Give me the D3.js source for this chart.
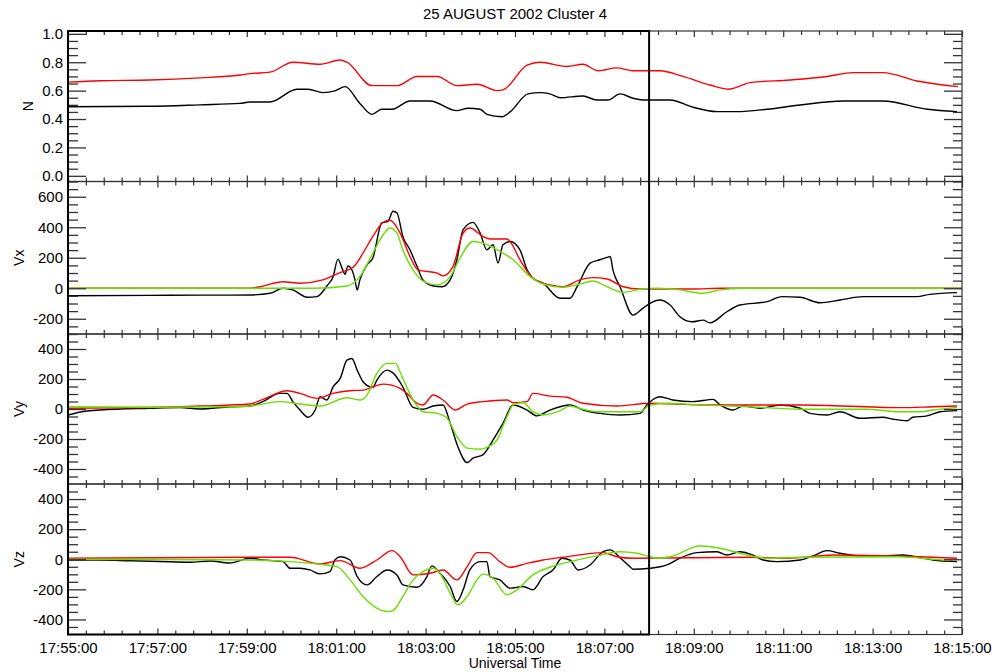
<!DOCTYPE html>
<html><head><meta charset="utf-8">
<script src="https://cdn.jsdelivr.net/npm/d3@7"></script>
<style>
body{margin:0;background:#fff}
svg{display:block}
text{font-family:"Liberation Sans",Arial,Helvetica,sans-serif;fill:#000}
</style>
</head><body><div id="chart"></div>
<script>
// ---------- DATA ----------
const chartTitle = "25 AUGUST 2002 Cluster 4";
const xTitle = "Universal Time";
const startTime = "2002-08-25T17:55:00Z";
const endTime = "2002-08-25T18:15:00Z";
const markerTime = "2002-08-25T18:08:00Z";
const xTickLabels = ["17:55:00","17:57:00","17:59:00","18:01:00","18:03:00","18:05:00","18:07:00","18:09:00","18:11:00","18:13:00","18:15:00"];
const panelNames = ["N","Vx","Vy","Vz"];
const nTickLabels = ["0.0","0.2","0.4","0.6","0.8","1.0"];
const vxTickLabels = ["-200","0","200","400","600"];
const vyTickLabels = ["-400","-200","0","200","400"];
const vzTickLabels = ["-400","-200","0","200","400"];

// series: [minutes after 17:55:00, value]
const nRed = [[0,0.66],[0.72,0.67],[1.83,0.675],[2.95,0.69],[3.85,0.71],[4.07,0.72],[4.52,0.73],[5.03,0.80],[5.64,0.786],[6.09,0.816],[6.24,0.80],[6.80,0.635],[7.36,0.635],[7.81,0.70],[8.26,0.70],[8.70,0.635],[9.15,0.645],[9.60,0.60],[9.73,0.605],[10.27,0.78],[10.56,0.80],[11.16,0.77],[11.52,0.786],[11.86,0.74],[12.28,0.76],[12.64,0.74],[13.24,0.74],[13.76,0.70],[14.36,0.64],[14.77,0.61],[15.26,0.656],[16.15,0.675],[16.98,0.70],[17.56,0.727],[18.23,0.727],[18.99,0.668],[19.91,0.628]];
const nBlack = [[0,0.487],[1.83,0.49],[2.95,0.50],[3.85,0.51],[4.07,0.52],[4.52,0.52],[5.12,0.61],[5.37,0.61],[5.70,0.586],[5.97,0.598],[6.20,0.628],[6.53,0.51],[6.80,0.433],[7.02,0.469],[7.25,0.469],[7.65,0.527],[8.10,0.527],[8.70,0.459],[8.95,0.476],[9.22,0.469],[9.37,0.433],[9.71,0.416],[9.89,0.45],[10.29,0.577],[10.56,0.586],[10.78,0.577],[11.01,0.55],[11.52,0.562],[11.83,0.534],[12.08,0.534],[12.35,0.577],[12.64,0.546],[12.86,0.534],[13.47,0.534],[13.98,0.483],[14.52,0.452],[14.97,0.452],[15.64,0.469],[16.38,0.499],[17.34,0.527],[18.23,0.527],[19.22,0.469],[19.89,0.452]];

const vxBlack = [[0,-49],[1.83,-47],[2.95,-45],[3.62,-45],[4.07,-44],[4.52,-33],[4.81,0],[5.03,-11],[5.35,-59],[5.57,-55],[5.79,15],[5.93,76],[6.04,191],[6.13,132],[6.20,92],[6.26,147],[6.35,121],[6.42,55],[6.47,-11],[6.53,55],[6.69,154],[6.82,198],[7.02,428],[7.16,439],[7.27,505],[7.36,494],[7.49,340],[7.65,252],[7.81,142],[7.94,55],[8.17,15],[8.37,10],[8.55,55],[8.70,187],[8.84,384],[9.06,432],[9.22,362],[9.37,252],[9.51,285],[9.62,165],[9.73,285],[9.89,307],[10.11,252],[10.27,121],[10.40,66],[10.63,33],[11.01,-66],[11.23,-66],[11.39,10],[11.68,165],[11.90,187],[12.08,204],[12.13,208],[12.19,121],[12.35,10],[12.64,-176],[12.86,-132],[13.02,-99],[13.24,-77],[13.47,-110],[13.69,-187],[13.96,-220],[14.21,-209],[14.36,-227],[14.74,-154],[15.03,-110],[15.64,-88],[15.97,-55],[16.38,-59],[16.82,-95],[17.27,-77],[17.79,-55],[18.99,-55],[19.28,-40],[19.89,-29]];
const vxRed = [[0,0],[4.07,0],[4.30,10],[4.81,43],[5.19,33],[5.70,55],[6.09,103],[6.38,138],[6.60,231],[6.82,340],[7.05,432],[7.20,446],[7.43,362],[7.65,208],[7.83,121],[8.26,99],[8.39,81],[8.61,142],[8.84,362],[8.99,395],[9.28,340],[9.44,323],[9.82,323],[9.89,307],[10.11,187],[10.40,66],[10.78,22],[11.07,10],[11.45,55],[11.74,70],[12.06,61],[12.42,10],[12.80,-5],[14.0,-5],[14.6,0],[20,0]];
const vxGreen = [[0,0],[5.5,0],[6.24,15],[6.53,76],[6.82,230],[7.05,351],[7.20,395],[7.36,362],[7.49,252],[7.72,121],[7.94,48],[8.26,22],[8.55,76],[8.77,198],[9.06,307],[9.28,296],[9.60,252],[9.96,187],[10.34,76],[10.63,28],[11.07,7],[11.52,33],[11.74,48],[12.06,10],[12.42,-26],[12.80,-7],[13.2,0],[13.69,-11],[14.18,-33],[14.59,-11],[15.0,0],[20,0]];

const vyBlack = [[0,-40],[0.38,-15],[0.72,-7],[1.83,5],[2.51,10],[2.95,0],[3.62,15],[4.07,20],[4.36,49],[4.74,104],[4.90,104],[5.03,49],[5.19,-7],[5.37,-55],[5.53,-7],[5.64,82],[5.79,60],[5.93,148],[6.09,204],[6.24,326],[6.35,337],[6.47,259],[6.60,182],[6.82,144],[6.91,193],[7.14,259],[7.27,241],[7.49,148],[7.72,11],[7.94,-2],[8.17,20],[8.39,27],[8.55,-95],[8.72,-250],[8.93,-357],[9.06,-328],[9.28,-306],[9.51,-206],[9.73,-95],[9.96,27],[10.27,-7],[10.49,-46],[10.78,-7],[11.23,27],[11.52,-7],[11.90,-29],[12.35,-40],[12.80,-29],[12.95,27],[13.18,78],[13.24,82],[13.53,60],[13.98,49],[14.43,64],[14.59,27],[14.88,-7],[15.10,20],[15.48,5],[15.93,27],[16.38,5],[16.60,-29],[16.98,-40],[17.27,-18],[17.72,-62],[18.23,-55],[18.46,-68],[18.77,-78],[18.90,-55],[19.22,-46],[19.51,-18],[19.89,-11]];
const vyRed = [[0,5],[1.83,10],[2.95,20],[4.07,33],[4.36,64],[4.90,122],[5.19,104],[5.57,71],[5.93,104],[6.31,122],[6.60,126],[7.05,166],[7.43,138],[7.58,104],[7.81,38],[7.94,27],[8.17,93],[8.39,60],[8.66,-7],[8.93,33],[9.28,49],[9.82,60],[9.96,42],[10.27,49],[10.40,104],[10.78,86],[11.16,78],[11.52,38],[12.28,20],[13.02,38],[14.14,27],[16.38,27],[18.61,9],[19.35,15],[19.89,20]];
const vyGreen = [[0,15],[1.83,12],[3.62,15],[4.07,20],[4.74,49],[5.19,33],[5.64,20],[6.24,75],[6.53,60],[6.69,93],[6.91,237],[7.14,304],[7.32,304],[7.49,204],[7.72,60],[7.94,-18],[8.26,-29],[8.48,-62],[8.70,-184],[8.93,-261],[9.22,-268],[9.44,-246],[9.60,-206],[9.82,-51],[9.96,27],[10.18,42],[10.40,-18],[10.63,-40],[11.01,-11],[11.23,20],[11.52,-2],[11.83,-18],[12.80,-18],[13.02,27],[13.40,38],[14.14,27],[15.26,15],[16.38,-2],[17.87,-2],[18.61,-18],[19.06,-18],[19.35,-7],[19.89,11]];

const vzBlack = [[0,-5],[0.72,-5],[1.39,-10],[2.06,-15],[2.73,-20],[3.18,-12],[3.62,-25],[4.07,7],[4.36,-5],[4.81,-16],[4.97,-60],[5.19,-60],[5.41,-71],[5.64,-97],[5.86,-82],[5.97,-5],[6.09,17],[6.31,-5],[6.47,-115],[6.69,-170],[6.91,-115],[7.14,-71],[7.36,-104],[7.49,-170],[7.81,-186],[8.03,-115],[8.14,-44],[8.32,-93],[8.55,-181],[8.70,-281],[8.84,-203],[8.99,-71],[9.22,-16],[9.37,-16],[9.44,-115],[9.66,-137],[9.89,-192],[10.18,-181],[10.40,-203],[10.63,-115],[10.85,-71],[11.05,7],[11.23,-5],[11.41,-71],[11.68,-38],[11.97,50],[12.13,62],[12.35,10],[12.57,-49],[12.64,-66],[13.02,-60],[13.40,-38],[13.69,7],[14.07,44],[14.52,50],[14.74,28],[15.03,50],[15.32,28],[15.55,-5],[15.86,-16],[16.38,-5],[16.67,22],[16.98,57],[17.27,40],[17.72,22],[18.23,22],[18.68,28],[19.06,11],[19.35,-5],[19.89,-16]];
const vzRed = [[0,7],[4.07,13],[4.97,13],[5.64,-31],[6.09,-9],[6.53,-60],[6.91,-5],[7.25,57],[7.43,17],[7.72,-104],[8.10,-93],[8.39,-71],[8.70,-137],[8.93,-49],[9.15,44],[9.40,44],[9.66,-16],[9.89,-53],[10.27,-27],[10.63,-5],[11.07,13],[11.97,44],[12.28,17],[12.64,7],[15.26,13],[16.09,7],[17.11,28],[18.39,22],[19.06,17],[19.89,7]];
const vzGreen = [[0,0],[1.83,-2],[2.95,-3],[4.07,-5],[4.97,-16],[5.57,-31],[6.02,-49],[6.31,-137],[6.60,-248],[6.91,-325],[7.14,-347],[7.27,-341],[7.49,-248],[7.72,-137],[7.94,-82],[8.17,-60],[8.32,-93],[8.55,-225],[8.72,-303],[8.93,-248],[9.15,-137],[9.28,-99],[9.51,-126],[9.82,-237],[10.04,-203],[10.40,-104],[10.78,-53],[11.23,-16],[11.83,22],[12.35,50],[12.73,40],[13.02,17],[13.18,7],[13.47,17],[14.14,88],[14.59,73],[15.03,40],[15.64,7],[16.38,13],[18.61,17],[19.35,0],[19.73,-9]];

// ---------- LAYOUT / STYLE ----------
const W = 997, H = 672;
const L = 68, R = 962;
const panelEdges = [31, 181.5, 334, 484, 634.5];
const panelDomains = [[-0.04,1.02],[-300,700],[-500,500],[-500,500]];
const panelMinor = [[0,1,0.05],[-300,700,50],[-450,450,50],[-450,450,50]];
const panelTickLabels = [nTickLabels, vxTickLabels, vyTickLabels, vzTickLabels];
const panelSeries = [
  [[nBlack,"#000"],[nRed,"#ff0000"]],
  [[vxBlack,"#000"],[vxRed,"#ff0000"],[vxGreen,"#66e000"]],
  [[vyBlack,"#000"],[vyRed,"#ff0000"],[vyGreen,"#66e000"]],
  [[vzBlack,"#000"],[vzRed,"#ff0000"],[vzGreen,"#66e000"]]
];
const labelX = [33, 24, 24, 24];

const t0 = Date.parse(startTime);
const toDate = m => new Date(t0 + m * 60000);

const svg = d3.select("#chart").append("svg").attr("width", W).attr("height", H);

const x = d3.scaleUtc().domain([new Date(startTime), new Date(endTime)]).range([L, R]);
const majorX = xTickLabels.map((_, i) => toDate(i * 2));
const minorX = d3.range(0, 20 * 60 + 1, 24).map(s => new Date(t0 + s * 1000)).filter(d => !majorX.some(m => +m === +d));

svg.append("text").attr("x", (L + R) / 2).attr("y", 19).attr("text-anchor", "middle")
  .style("font-size", "15px").text(chartTitle);

const defs = svg.append("defs");

panelNames.forEach((name, i) => {
  const top = panelEdges[i], bot = panelEdges[i + 1];
  const y = d3.scaleLinear().domain(panelDomains[i]).range([bot, top]);
  const g = svg.append("g");
  const labels = panelTickLabels[i];
  const majorY = labels.map(s => +s);
  const [mn, mx, st] = panelMinor[i];
  const minorY = d3.range(Math.round((mx - mn) / st) + 1).map(k => +(mn + k * st).toFixed(4))
    .filter(v => !majorY.some(m => Math.abs(m - v) < 1e-6));

  defs.append("clipPath").attr("id", "clip" + i).append("rect")
    .attr("x", L).attr("y", top).attr("width", R - L).attr("height", bot - top);

  const line = d3.line().curve(d3.curveMonotoneX).x(d => x(toDate(d[0]))).y(d => y(d[1]));
  const lg = g.append("g").attr("clip-path", "url(#clip" + i + ")");
  panelSeries[i].forEach(([data, color]) => {
    lg.append("path").datum(data).attr("d", line).attr("fill", "none")
      .attr("stroke", color).attr("stroke-width", 1.4).attr("stroke-linejoin", "round");
  });

  g.append("rect").attr("x", L).attr("y", top).attr("width", R - L).attr("height", bot - top)
    .attr("fill", "none").attr("stroke", "#333").attr("stroke-width", 1.2);

  const yl = g.append("g").attr("transform", `translate(${L},0)`)
    .call(d3.axisLeft(y).tickValues(majorY).tickFormat((d, k) => labels[k]).tickSize(-18).tickPadding(5));
  yl.select(".domain").remove();
  yl.selectAll("text").style("font-size", "15px").attr("fill", "#000");
  yl.selectAll("line").attr("stroke", "#333").attr("stroke-width", 1.3);
  const ylm = g.append("g").attr("transform", `translate(${L},0)`)
    .call(d3.axisLeft(y).tickValues(minorY).tickFormat("").tickSize(-10));
  ylm.select(".domain").remove();
  ylm.selectAll("line").attr("stroke", "#333").attr("stroke-width", 1.3);

  const yr = g.append("g").attr("transform", `translate(${R},0)`)
    .call(d3.axisRight(y).tickValues(majorY).tickFormat("").tickSize(-18));
  yr.select(".domain").remove();
  yr.selectAll("line").attr("stroke", "#333").attr("stroke-width", 1.3);
  const yrm = g.append("g").attr("transform", `translate(${R},0)`)
    .call(d3.axisRight(y).tickValues(minorY).tickFormat("").tickSize(-9));
  yrm.select(".domain").remove();
  yrm.selectAll("line").attr("stroke", "#333").attr("stroke-width", 1.3);

  [[top, d3.axisTop], [bot, d3.axisBottom]].forEach(([yy, ax]) => {
    const a = g.append("g").attr("transform", `translate(0,${yy})`)
      .call(ax(x).tickValues(majorX).tickFormat("").tickSize(-6));
    a.select(".domain").remove();
    a.selectAll("line").attr("stroke", "#333").attr("stroke-width", 1.2);
    const b = g.append("g").attr("transform", `translate(0,${yy})`)
      .call(ax(x).tickValues(minorX).tickFormat("").tickSize(-4));
    b.select(".domain").remove();
    b.selectAll("line").attr("stroke", "#333").attr("stroke-width", 1.2);
  });

  g.append("text").attr("transform", `translate(${labelX[i]},${(top + bot) / 2}) rotate(-90)`)
    .attr("text-anchor", "middle").style("font-size", "14px").text(name);
});

const xa = svg.append("g").attr("transform", `translate(0,${panelEdges[4]})`)
  .call(d3.axisBottom(x).tickValues(majorX).tickFormat((d, k) => xTickLabels[k]).tickSize(0).tickPadding(8));
xa.select(".domain").remove();
xa.selectAll("text").style("font-size", "15px").attr("fill", "#000");

svg.append("text").attr("x", (L + R) / 2).attr("y", 668).attr("text-anchor", "middle")
  .style("font-size", "14px").attr("fill", "#333").text(xTitle);

const xm = x(new Date(markerTime));
svg.append("rect").attr("x", L).attr("y", panelEdges[0]).attr("width", xm - L)
  .attr("height", panelEdges[4] - panelEdges[0]).attr("fill", "none")
  .attr("stroke", "#000").attr("stroke-width", 2);
</script>
</body></html>
